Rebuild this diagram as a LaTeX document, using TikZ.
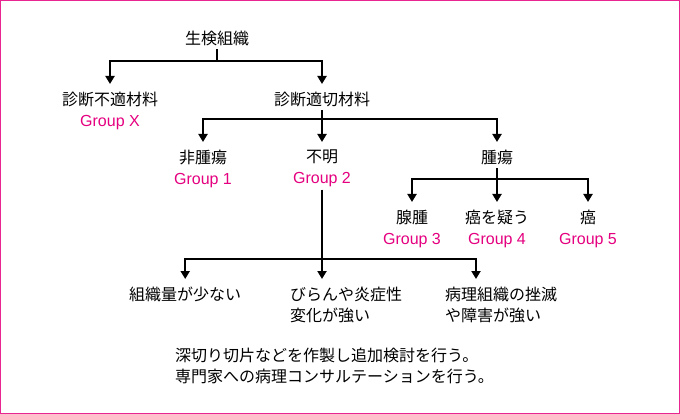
\documentclass[tikz,border=0pt]{standalone}
\usepackage{fontspec}
\setmainfont{Noto Sans CJK JP}
\newfontfamily\grpfont{Liberation Sans}
\usetikzlibrary{arrows.meta,calc}
\definecolor{grp}{RGB}{228,0,127}
\newcommand{\grp}[1]{{\grpfont\color{grp}#1}}
\tikzset{
  lbl/.style={inner sep=0pt, anchor=north, align=center, font=\fontsize{16}{20.5}\selectfont},
  lbll/.style={lbl, anchor=north west, align=left},
  arr/.style={line width=2pt, -{Triangle[width=9pt,length=8pt]}, shorten >=8pt, shorten <=3pt},
}
\begin{document}
\begin{tikzpicture}[x=1pt,y=-1pt]
            \useasboundingbox (0,0) rectangle (680,414);
            \draw[grp!85, line width=1.2pt] (0.6,0.6) rectangle (679.4,413.4);
            % levels of the tree
            \coordinate (bar1) at (0,61);
            \coordinate (bar2) at (0,119);
            \coordinate (bar3) at (0,179);
            \coordinate (bar4) at (0,259);
            \node[lbl] (biopsy) at (217,31) {生検組織};
            \node[lbl] (inadeq) at (110,92) {診断不適材料\\\grp{Group X}};
            \node[lbl] (adeq) at (322,92) {診断適切材料};
            \node[lbl] (benign) at (203,150) {非腫瘍\\\grp{Group 1}};
            \node[lbl] (unclear) at (322,150) {不明\\\grp{Group 2}};
            \node[lbl] (tumor) at (497,150) {腫瘍};
            \node[lbl] (adenoma) at (412,210) {腺腫\\\grp{Group 3}};
            \node[lbl] (suspect) at (497,210) {癌を疑う\\\grp{Group 4}};
            \node[lbl] (cancer) at (588,210) {癌\\\grp{Group 5}};
            \node[lbll] (scant) at (129,287) {組織量が少ない};
            \node[lbll] (inflam) at (290,287) {びらんや炎症性\\変化が強い};
            \node[lbll] (crush) at (445,287) {病理組織の挫滅\\や障害が強い};
            \node[lbll] (note) at (175,348) {深切り切片などを作製し追加検討を行う。\\専門家への病理コンサルテーションを行う。};
            % connectors
            \draw[arr] (biopsy.south) -- (biopsy.south |- bar1) -| (inadeq.north);
            \draw[arr] (biopsy.south) -- (biopsy.south |- bar1) -| (adeq.north);
            \draw[arr] (adeq.south) -- (adeq.south |- bar2) -| (benign.north);
            \draw[arr] (adeq.south) -- (unclear.north);
            \draw[arr] (adeq.south) -- (adeq.south |- bar2) -| (tumor.north);
            \draw[arr] (tumor.south) -- (tumor.south |- bar3) -| (adenoma.north);
            \draw[arr] (tumor.south) -- (suspect.north);
            \draw[arr] (tumor.south) -- (tumor.south |- bar3) -| (cancer.north);
            \draw[arr] (unclear.south) -- (unclear.south |- bar4) -| (scant.north);
            \draw[arr] (unclear.south) -- (unclear.south |- inflam.north);
            \draw[arr] (unclear.south) -- (unclear.south |- bar4) -| ($(crush.north west)+(31,0)$);
        \end{tikzpicture}
\end{document}
